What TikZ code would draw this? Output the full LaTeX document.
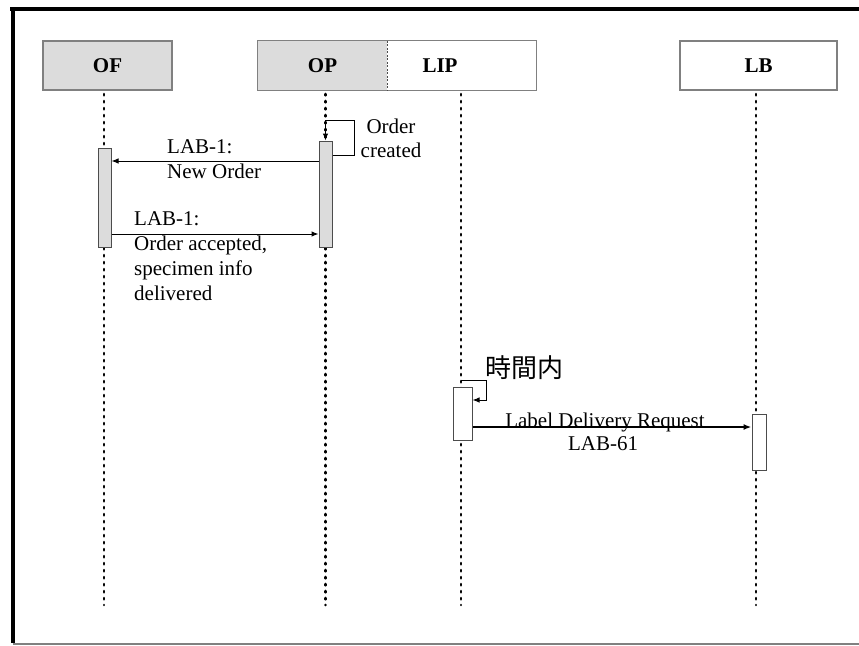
\documentclass[tikz,border=0pt]{standalone}
\usepackage{fontspec}
\setmainfont{Liberation Serif}
\newfontfamily\cjkfont{Noto Sans CJK JP}
\usetikzlibrary{arrows.meta}
\definecolor{boxgray}{HTML}{DCDCDC}
\definecolor{edgegray}{HTML}{808080}
\tikzset{
  headbox/.style={draw=edgegray, line width=1.2pt, minimum height=49pt, inner sep=0pt, font=\fontsize{21}{24}\selectfont\bfseries},
  lifeline/.style={line width=2.6pt, line cap=round, dash pattern=on 1.4pt off 5.6pt},
  actbar/.style={draw=black!70, line width=1pt, minimum width=13pt, inner sep=0pt},
  msg/.style={line width=1pt, -{Latex[length=7pt,width=5.5pt]}},
  txt/.style={inner sep=0pt, anchor=base west, font=\fontsize{21}{25}\selectfont},
  ctxt/.style={inner sep=0pt, anchor=base, font=\fontsize{21}{25}\selectfont},
}
\begin{document}
\begin{tikzpicture}[x=1pt,y=-1pt]
\useasboundingbox (0,0) rectangle (859,645);
% frame
\draw[line width=4pt] (10,9) -- (859,9);
\draw[line width=4pt] (12.5,7) -- (12.5,643);
\draw[edgegray, line width=2pt] (12.5,643.5) -- (859,643.5);

% header boxes
\node[headbox, fill=boxgray, minimum width=129pt] (OF) at (107.5,65.5) {OF};
\node[inner sep=0pt, fill=boxgray, minimum width=129pt, minimum height=49pt, font=\fontsize{21}{24}\selectfont\bfseries] (OP) at (322.5,65.5) {OP};
\node[inner sep=0pt, minimum width=149pt, minimum height=49pt] (LIP) at (461.5,65.5) {};
\draw[edgegray, line width=1.2pt] (OP.north west) rectangle (LIP.south east);
\draw[black!70, line width=0.8pt, dash pattern=on 2pt off 1.5pt] (OP.north east) -- (OP.south east);
\node[inner sep=0pt, font=\fontsize{21}{24}\selectfont\bfseries] (LIPt) at (440,65.5) {LIP};
\node[headbox, minimum width=157pt] (LB) at (758.5,65.5) {LB};

% lifeline end points
\coordinate (OFend) at (104,605);
\coordinate (OPend) at (325.5,605);
\coordinate (LIPend) at (461,605);
\coordinate (LBend) at (756,605);
\draw[lifeline] (104,94) -- (OFend);
\draw[lifeline] (325.5,94) -- (OPend);
\draw[lifeline] (461,94) -- (LIPend);
\draw[lifeline] (756,94) -- (LBend);

% activation bars
\node[actbar, fill=boxgray, minimum height=99pt] (OFbar) at (104.5,197.5) {};
\node[actbar, fill=boxgray, minimum height=106pt] (OPbar) at (325.5,194) {};
\node[actbar, fill=white, minimum width=19pt, minimum height=53pt] (LIPbar) at (462.5,413.5) {};
\node[actbar, fill=white, minimum width=14pt, minimum height=56pt] (LBbar) at (759,442) {};

% self loop OP
\draw[line width=1pt, -{Latex[length=7pt,width=5.5pt]}] (OPbar.east |- 0,155) -- (354,155) -- (354,120) -- (OPbar.north |- 0,120) -- (OPbar.north);
\node[ctxt] (oc1) at (391,133) {Order};
\node[ctxt] (oc2) at (391,157) {created};

% message 1
\draw[msg] (OPbar.west |- 0,161) -- (OFbar.east |- 0,161);
\node[txt] (m1a) at (167,153) {LAB-1:};
\node[txt] (m1b) at (167,178) {New Order};

% message 2
\draw[msg] (OFbar.east |- 0,234) -- (OPbar.west |- 0,234);
\node[txt] (m2a) at (134,225) {LAB-1:};
\node[txt] (m2b) at (134,250) {Order accepted,};
\node[txt] (m2c) at (134,275) {specimen info};
\node[txt] (m2d) at (134,300) {delivered};

% self loop LIP
\draw[line width=1pt, -{Latex[length=7pt,width=5.5pt]}] (461,380) -- (486,380) -- (486,400) -- (LIPbar.east |- 0,400);
\node[inner sep=0pt, anchor=west, font=\fontsize{26}{30}\cjkfont] (tk) at (485,368) {時間内};

% message 3
\draw[line width=2pt, -{Latex[length=8pt,width=6pt]}] (LIPbar.east |- 0,427) -- (LBbar.west |- 0,427);
\node[ctxt] (m3a) at (605,427) {Label Delivery Request};
\node[ctxt] (m3b) at (603,450) {LAB-61};
\end{tikzpicture}
\end{document}
